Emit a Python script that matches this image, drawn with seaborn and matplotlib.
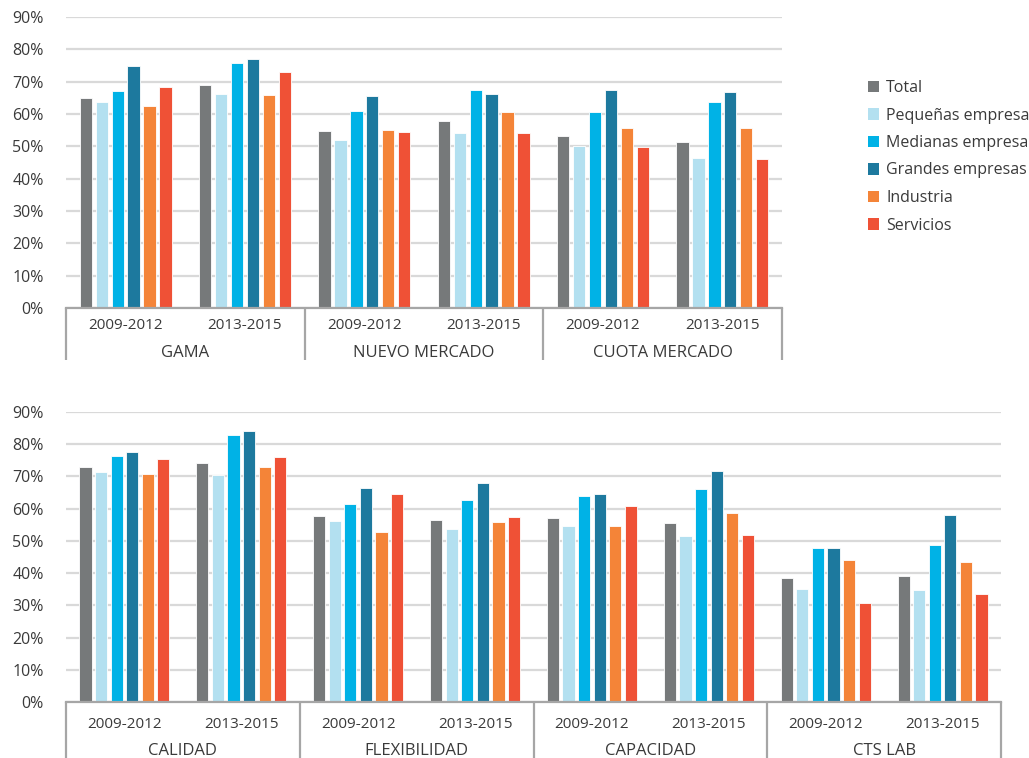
import matplotlib
matplotlib.use("Agg")
import matplotlib.pyplot as plt
import seaborn as sns
import pandas as pd
from matplotlib.ticker import FuncFormatter, MultipleLocator

sns.set_theme(style="white")
plt.rcParams["font.family"] = ["Open Sans", "DejaVu Sans"]

TEXT = "#3a3a3a"
GRID = "#d9d9d9"
AXIS = "#a6a6a6"

series = ["Total", "Pequeñas empresa", "Medianas empresa",
          "Grandes empresas", "Industria", "Servicios"]
colors = ["#76797a", "#b3e0f0", "#00b2e6", "#1d799e", "#f48438", "#ef5136"]
periods = ["2009-2012", "2013-2015"]

top_groups = ["GAMA", "NUEVO MERCADO", "CUOTA MERCADO"]
bottom_groups = ["CALIDAD", "FLEXIBILIDAD", "CAPACIDAD", "CTS LAB"]

# Percentages per group and period, in the order of `series`
gama_2009 = [65.0, 63.6, 67.1, 74.8, 62.4, 68.5]
gama_2013 = [68.9, 66.1, 75.7, 76.9, 65.9, 72.9]
nuevo_2009 = [54.6, 51.9, 61.0, 65.6, 55.0, 54.3]
nuevo_2013 = [57.8, 54.1, 67.4, 66.2, 60.6, 54.1]
cuota_2009 = [53.2, 50.2, 60.7, 67.5, 55.7, 49.9]
cuota_2013 = [51.4, 46.5, 63.6, 66.7, 55.6, 46.0]

calidad_2009 = [72.8, 71.3, 76.3, 77.7, 70.8, 75.3]
calidad_2013 = [74.1, 70.6, 83.0, 84.2, 72.8, 76.0]
flex_2009 = [57.8, 56.3, 61.3, 66.3, 52.9, 64.7]
flex_2013 = [56.5, 53.8, 62.8, 68.1, 55.8, 57.4]
capac_2009 = [57.2, 54.6, 63.8, 64.5, 54.6, 60.8]
capac_2013 = [55.7, 51.5, 66.1, 71.7, 58.6, 51.8]
cts_2009 = [38.6, 35.1, 47.7, 47.8, 44.2, 30.8]
cts_2013 = [39.0, 34.7, 48.6, 57.9, 43.3, 33.4]

top_values = {
    "GAMA": [gama_2009, gama_2013],
    "NUEVO MERCADO": [nuevo_2009, nuevo_2013],
    "CUOTA MERCADO": [cuota_2009, cuota_2013],
}
bottom_values = {
    "CALIDAD": [calidad_2009, calidad_2013],
    "FLEXIBILIDAD": [flex_2009, flex_2013],
    "CAPACIDAD": [capac_2009, capac_2013],
    "CTS LAB": [cts_2009, cts_2013],
}


def to_frame(groups, values):
    rows = []
    for g in groups:
        for p, vals in zip(periods, values[g]):
            for s, v in zip(series, vals):
                rows.append({"cat": f"{g}|{p}", "series": s, "value": v})
    return pd.DataFrame(rows)


def draw(ax, groups, values, sep_depth, sub_pad, group_y):
    df = to_frame(groups, values)
    sns.barplot(data=df, x="cat", y="value", hue="series", hue_order=series,
                palette=colors, width=0.8, gap=0.22, ax=ax,
                edgecolor="white", linewidth=0.6, saturation=1, errorbar=None)
    if ax.get_legend() is not None:
        ax.get_legend().remove()
    n = len(groups) * len(periods)
    ax.set_xlim(-0.5, n - 0.5)
    ax.set_ylim(0, 90)
    ax.yaxis.set_major_locator(MultipleLocator(10))
    ax.yaxis.set_major_formatter(FuncFormatter(lambda v, _: f"{v:.0f}%"))
    ax.grid(axis="y", color=GRID, linewidth=1.6)
    ax.set_axisbelow(True)
    for side in ["left", "right", "top"]:
        ax.spines[side].set_visible(False)
    ax.spines["bottom"].set_color(AXIS)
    ax.spines["bottom"].set_linewidth(1.6)
    ax.set_xlabel("")
    ax.set_ylabel("")
    ax.set_xticks(range(n))
    ax.set_xticklabels([p for g in groups for p in periods])
    ax.tick_params(axis="x", length=0, pad=sub_pad, labelsize=11, labelcolor=TEXT)
    ax.tick_params(axis="y", length=0, pad=16, labelsize=11.5, labelcolor=TEXT)
    tr = ax.get_xaxis_transform()
    bounds = [-0.5 + i * len(periods) for i in range(len(groups) + 1)]
    ax.vlines(bounds, sep_depth, 0, transform=tr, colors=AXIS,
              linewidth=1.6, clip_on=False)
    for i, g in enumerate(groups):
        ax.text(i * len(periods) + 0.5, group_y, g, transform=tr,
                ha="center", va="center", fontsize=12, color=TEXT)


fig = plt.figure(figsize=(10.29, 7.58), dpi=100)
ax_top = fig.add_axes([66 / 1029, 1 - 308 / 758, (782 - 66) / 1029, 291 / 758])
ax_bot = fig.add_axes([66 / 1029, 1 - 702 / 758, (1001 - 66) / 1029, 290 / 758])

draw(ax_top, top_groups, top_values, -0.18, 7, -0.155)
draw(ax_bot, bottom_groups, bottom_values, -0.2, 11, -0.17)

handles, labels = ax_top.get_legend_handles_labels()
leg = fig.legend(handles, labels, loc="upper left",
                 bbox_to_anchor=(868 / 1029, 1 - 80 / 758), frameon=False,
                 borderpad=0, borderaxespad=0,
                 fontsize=11.5, handlelength=0.7, handleheight=0.7,
                 handletextpad=0.45, labelspacing=0.72, labelcolor=TEXT)
for h in leg.legend_handles:
    h.set_edgecolor("none")

fig.savefig("out.png", dpi=100, facecolor="white")
